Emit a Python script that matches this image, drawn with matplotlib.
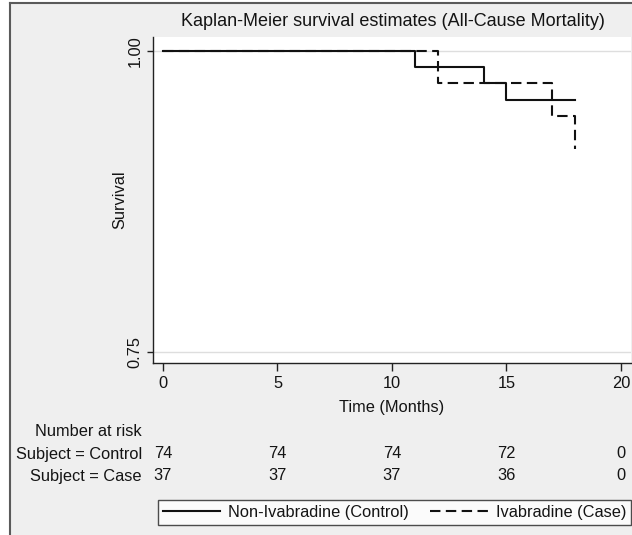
import matplotlib
matplotlib.use("Agg")
import matplotlib.pyplot as plt
import matplotlib.transforms as mtransforms
from matplotlib.patches import Rectangle
from matplotlib.lines import Line2D

plt.rcParams['font.family'] = ['Liberation Sans', 'DejaVu Sans']
FS = 11.8

# ---- data ----
control_time = [0, 11, 14, 15, 18]
control_surv = [1.0, 0.9865, 0.9730, 0.9590, 0.9590]
case_time = [0, 12, 17, 18]
case_surv = [1.0, 0.9730, 0.9459, 0.9189]

x_ticks = [0, 5, 10, 15, 20]
y_ticks = [0.75, 1.00]
y_tick_labels = ["0.75", "1.00"]
risk_control = [74, 74, 74, 72, 0]
risk_case = [37, 37, 37, 36, 0]

title = "Kaplan-Meier survival estimates (All-Cause Mortality)"
label_control = "Non-Ivabradine (Control)"
label_case = "Ivabradine (Case)"

W, H = 632, 535
fig = plt.figure(figsize=(W / 100, H / 100), dpi=100)
fig.patch.set_facecolor('white')

def fx(px):
    return px / W

def fy(py):
    return 1 - py / H

TXT = '#141414'

# graph region background with frame on left/top
bg = Rectangle((fx(10), 0), 1 - fx(10), fy(3), transform=fig.transFigure,
               facecolor='#efefef', edgecolor='none', zorder=-10)
fig.patches.append(bg)
fig.add_artist(Line2D([fx(10), fx(10)], [0, fy(3)], transform=fig.transFigure,
                      color='#5a5a5a', lw=1.5))
fig.add_artist(Line2D([fx(10), 1], [fy(3), fy(3)], transform=fig.transFigure,
                      color='#5a5a5a', lw=1.5))

ax = fig.add_axes([fx(153), fy(363), fx(631) - fx(153), fy(37) - fy(363)])
ax.set_facecolor('white')

ax.set_xlim(-0.437, 20.44)
ax.set_ylim(0.7409, 1.0116)

for y in y_ticks:
    ax.axhline(y, color='#dedede', lw=1.0, zorder=1)

ax.step(control_time, control_surv, where='post', color='#111111', lw=1.5, zorder=3)
ax.step(case_time, case_surv, where='post', color='#111111', lw=1.5,
        dashes=(5, 2.6), zorder=3)

for s in ['top', 'right']:
    ax.spines[s].set_visible(False)
for s in ['left', 'bottom']:
    ax.spines[s].set_color('#222222')
    ax.spines[s].set_linewidth(1.0)

ax.set_xticks(x_ticks)
ax.set_xticklabels([str(t) for t in x_ticks])
ax.set_yticks(y_ticks)
ax.set_yticklabels(y_tick_labels, rotation=90, va='center')
ax.tick_params(axis='x', length=6, width=1, color='#222222', pad=3,
               labelsize=FS, labelcolor=TXT)
ax.tick_params(axis='y', length=4.5, width=1, color='#222222', pad=3,
               labelsize=FS, labelcolor=TXT)

ax.set_xlabel("Time (Months)", fontsize=FS, color=TXT, labelpad=7)
ax.set_ylabel("Survival", fontsize=FS, color=TXT, labelpad=0.5)

fig.text(0.5 * (fx(153) + 1), fy(22), title, ha='center', va='center',
         fontsize=FS * 1.1, color=TXT)

# number at risk table
tr = mtransforms.blended_transform_factory(ax.transData, fig.transFigure)
fig.text(fx(142), fy(432), "Number at risk", ha='right', va='center', fontsize=FS,
         color=TXT)
fig.text(fx(142), fy(454), "Subject = Control", ha='right', va='center', fontsize=FS,
         color=TXT)
fig.text(fx(142), fy(476), "Subject = Case", ha='right', va='center', fontsize=FS,
         color=TXT)
for t, n in zip(x_ticks, risk_control):
    ax.text(t, fy(454), str(n), transform=tr, ha='center', va='center',
            fontsize=FS, color=TXT)
for t, n in zip(x_ticks, risk_case):
    ax.text(t, fy(476), str(n), transform=tr, ha='center', va='center',
            fontsize=FS, color=TXT)

# legend
h1 = Line2D([], [], color='#111111', lw=1.5)
h2 = Line2D([], [], color='#111111', lw=1.5, dashes=(5, 2.6))
leg = fig.legend([h1, h2], [label_control, label_case], ncol=2,
                 loc='center', mode='expand',
                 bbox_to_anchor=(fx(158), fy(530), fx(631) - fx(158), fy(495) - fy(530)),
                 bbox_transform=fig.transFigure,
                 fontsize=FS, frameon=True, fancybox=False, handlelength=3.5,
                 handletextpad=0.5, borderpad=0.3, borderaxespad=0)
leg.get_frame().set_edgecolor('#222222')
leg.get_frame().set_linewidth(1.0)
leg.get_frame().set_facecolor('white')
for t in leg.get_texts():
    t.set_color(TXT)

fig.savefig("out.png", dpi=100, facecolor=fig.get_facecolor())
